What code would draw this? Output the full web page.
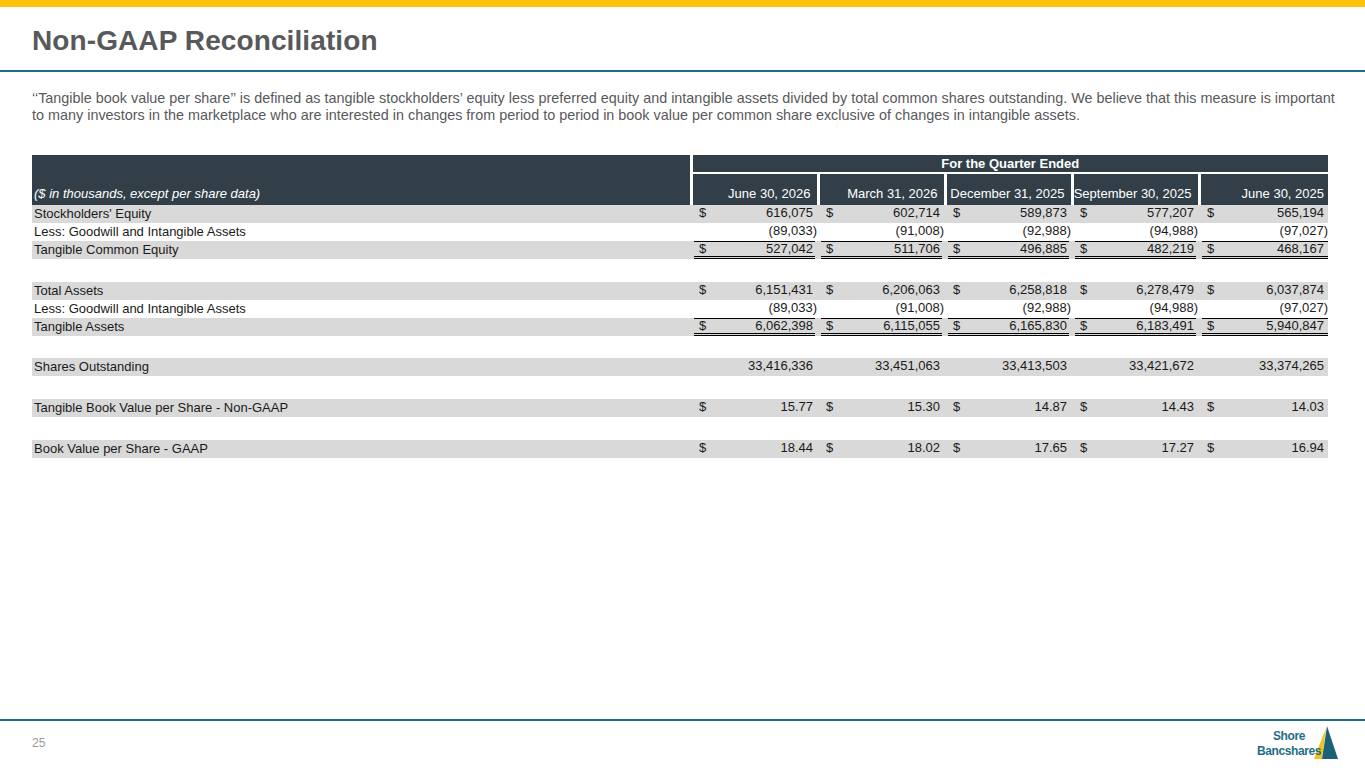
<!DOCTYPE html>
<html lang="en">
<head>
  <meta charset="UTF-8">
  <title>Non-GAAP Reconciliation</title>
  <script src="https://cdn.jsdelivr.net/npm/chart.js"></script>
  <style>
    html, body {
      margin: 0;
      padding: 0;
      width: 1365px;
      height: 768px;
      overflow: hidden;
      background: #fff;
      font-family: "Liberation Sans", Arial, sans-serif;
    }
    .topbar {
      position: absolute; left: 0; top: 0; width: 1365px; height: 7px;
      background: #ffc20e;
    }
    h1 {
      position: absolute; left: 32px; top: 25px; margin: 0;
      font-size: 28px; font-weight: bold; color: #58595b; letter-spacing: 0.1px;
    }
    .rule {
      position: absolute; left: 0; width: 1365px; height: 2px;
      background: #1f6e86;
    }
    .intro {
      position: absolute; left: 32px; top: 90px; width: 1310px; margin: 0;
      font-size: 14.4px; line-height: 17px; color: #58595b;
    }
    table {
      position: absolute; left: 32px; top: 155px; width: 1296px;
      border-collapse: collapse; table-layout: fixed;
      font-size: 13px; line-height: 14px; color: #1a1a1a;
    }
    td, th { padding: 0; white-space: nowrap; }
    th {
      background: #333f48; color: #fff; font-weight: normal;
    }
    th.lbl {
      text-align: left; vertical-align: bottom; font-style: italic;
      padding: 0 0 4px 2px; border-right: 3px solid #fff;
    }
    th.group {
      height: 17px; font-weight: bold; text-align: center;
      border-bottom: 2px solid #fff;
    }
    th.col {
      height: 27px; text-align: right; vertical-align: bottom;
      padding: 0 6px 4px 0; border-right: 3px solid #fff;
    }
    th.col.last { border-right: none; padding-right: 4px; }
    tr.data td { height: 18px; }
    tr.data.shade td { background: #d9d9d9; }
    tr.gap td { height: 22.7px; }
    td.name { padding-left: 2px; }
    .cell {
      display: flex; justify-content: space-between; align-items: center;
      height: 14px; margin: 0 3px 0 3px; padding: 0 2px 0 5px;
      border-top: 1px solid transparent; border-bottom: 3px solid transparent;
    }
    .last .cell { margin-right: 0; padding-right: 4px; }
    tr.total .cell { border-top-color: #000; border-bottom: 3px double #000; }
    .page {
      position: absolute; left: 32px; top: 736px; font-size: 12px; color: #9a9a9a;
    }
    .logo {
      position: absolute; left: 1250px; top: 722px; width: 95px; height: 42px;
    }
    .logo .t1, .logo .t2 {
      position: absolute; font-weight: bold; color: #1f6e86;
      font-size: 12px; line-height: 12px; letter-spacing: -0.4px;
    }
    .logo .t1 { left: 23px; top: 8px; }
    .logo .t2 { left: 7px; top: 23px; }
    .logo svg { position: absolute; left: 0; top: 0; }
  </style>
</head>
<body>

<div class="topbar"></div>
<h1>Non-GAAP Reconciliation</h1>
<div class="rule" style="top:70px"></div>
<p class="intro">‘‘Tangible book value per share’’ is defined as tangible stockholders’ equity less preferred equity and intangible assets divided by total common shares outstanding. We believe that this measure is important to many investors in the marketplace who are interested in changes from period to period in book value per common share exclusive of changes in intangible assets.</p>

<table id="recon">
  <colgroup>
    <col style="width:659px">
    <col style="width:127px"><col style="width:127px"><col style="width:127px">
    <col style="width:127px"><col style="width:129px">
  </colgroup>
  <thead></thead>
  <tbody></tbody>
</table>

<div class="rule" style="top:719px;height:2px"></div>
<div class="page">25</div>
<div class="logo">
  <svg width="95" height="42">
    <polygon points="76,6 64,37 72,37" fill="#f3c01c"/>
    <polygon points="77,4 88,37 72,37" fill="#1b6278"/>
  </svg>
  <span class="t1">Shore</span>
  <span class="t2">Bancshares</span>
</div>

<script>
  const headerNote = "($ in thousands, except per share data)";
  const groupTitle = "For the Quarter Ended";
  const periods = ["June 30, 2026", "March 31, 2026", "December 31, 2025", "September 30, 2025", "June 30, 2025"];

  const stockholdersEquity = [616075, 602714, 589873, 577207, 565194];
  const goodwillIntangibles = [-89033, -91008, -92988, -94988, -97027];
  const tangibleCommonEquity = [527042, 511706, 496885, 482219, 468167];
  const totalAssets = [6151431, 6206063, 6258818, 6278479, 6037874];
  const tangibleAssets = [6062398, 6115055, 6165830, 6183491, 5940847];
  const sharesOutstanding = [33416336, 33451063, 33413503, 33421672, 33374265];
  const tbvPerShare = [15.77, 15.30, 14.87, 14.43, 14.03];
  const bvPerShare = [18.44, 18.02, 17.65, 17.27, 16.94];

  // row layout: label, values, dollar sign, decimals, shaded, total lines
  const rows = [
    ["Stockholders' Equity", stockholdersEquity, true, 0, true, false],
    ["Less: Goodwill and Intangible Assets", goodwillIntangibles, false, 0, false, false],
    ["Tangible Common Equity", tangibleCommonEquity, true, 0, true, true],
    null,
    ["Total Assets", totalAssets, true, 0, true, false],
    ["Less: Goodwill and Intangible Assets", goodwillIntangibles, false, 0, false, false],
    ["Tangible Assets", tangibleAssets, true, 0, true, true],
    null,
    ["Shares Outstanding", sharesOutstanding, false, 0, true, false],
    null,
    ["Tangible Book Value per Share - Non-GAAP", tbvPerShare, true, 2, true, false],
    null,
    ["Book Value per Share - GAAP", bvPerShare, true, 2, true, false]
  ];

  function fmt(v, dec) {
    const s = Math.abs(v).toLocaleString("en-US", {minimumFractionDigits: dec, maximumFractionDigits: dec});
    return v < 0 ? "(" + s + ")" : s;
  }

  const thead = document.querySelector("#recon thead");
  const tbody = document.querySelector("#recon tbody");

  let h1 = document.createElement("tr");
  let lbl = document.createElement("th");
  lbl.className = "lbl";
  lbl.rowSpan = 2;
  lbl.textContent = headerNote;
  h1.appendChild(lbl);
  let grp = document.createElement("th");
  grp.className = "group";
  grp.colSpan = periods.length;
  grp.textContent = groupTitle;
  h1.appendChild(grp);
  thead.appendChild(h1);

  let h2 = document.createElement("tr");
  periods.forEach((p, i) => {
    let th = document.createElement("th");
    th.className = "col" + (i === periods.length - 1 ? " last" : "");
    th.textContent = p;
    h2.appendChild(th);
  });
  thead.appendChild(h2);

  rows.forEach(r => {
    let tr = document.createElement("tr");
    if (!r) {
      tr.className = "gap";
      let td = document.createElement("td");
      td.colSpan = periods.length + 1;
      tr.appendChild(td);
      tbody.appendChild(tr);
      return;
    }
    const [label, values, dollar, dec, shade, total] = r;
    tr.className = "data" + (shade ? " shade" : "") + (total ? " total" : "");
    let name = document.createElement("td");
    name.className = "name";
    name.textContent = label;
    tr.appendChild(name);
    values.forEach((v, i) => {
      let td = document.createElement("td");
      if (i === values.length - 1) td.className = "last";
      let cell = document.createElement("div");
      cell.className = "cell";
      let cur = document.createElement("span");
      cur.textContent = dollar ? "$" : "";
      let num = document.createElement("span");
      num.textContent = fmt(v, dec);
      if (v < 0) num.style.marginRight = "-4px";
      cell.appendChild(cur);
      cell.appendChild(num);
      td.appendChild(cell);
      tr.appendChild(td);
    });
    tbody.appendChild(tr);
  });
</script>

</body>
</html>
